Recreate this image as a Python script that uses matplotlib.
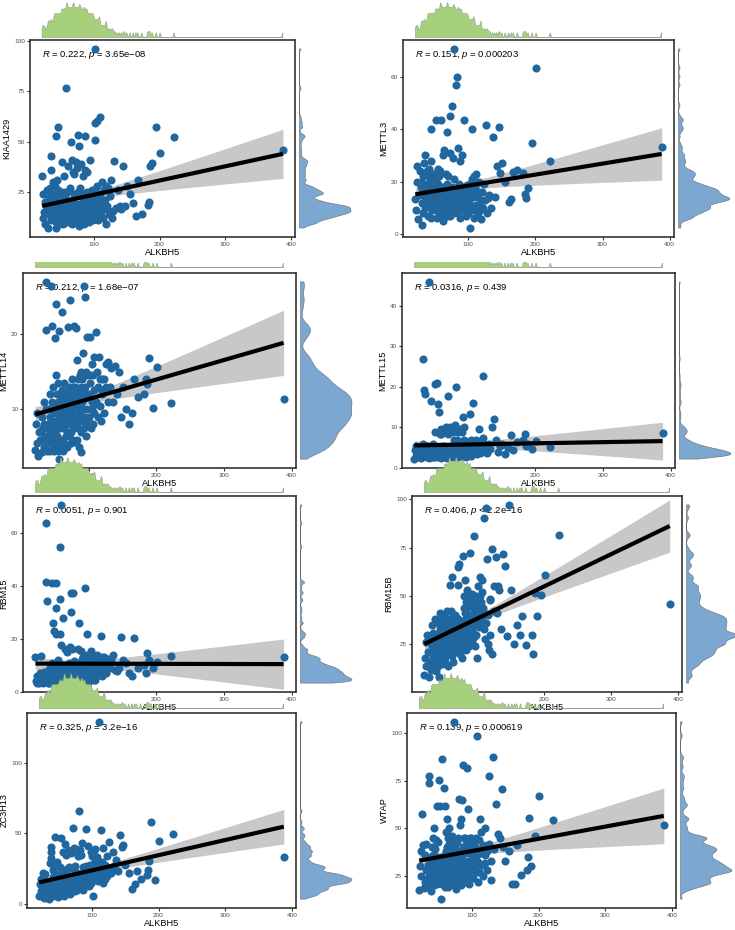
import numpy as np
import matplotlib
matplotlib.use("Agg")
import matplotlib.pyplot as plt

plt.rcParams['font.family'] = ['Liberation Sans', 'DejaVu Sans']
plt.rcParams['mathtext.fontset'] = 'custom'
plt.rcParams['mathtext.rm'] = 'Liberation Sans'
plt.rcParams['mathtext.it'] = 'Liberation Sans:italic'

# ALKBH5 expression, shared x of every panel (tail samples first, then the main cloud)
alkbh5 = [388, 222, 201, 195, 189, 186, 184, 182, 173, 167, 164, 160, 155, 150, 147, 145, 142,
          21, 22, 23, 24, 25, 26, 28, 29,
          30, 31, 31, 32, 33, 34, 34, 35, 36, 36, 37, 38, 39, 39,
          40, 40, 41, 41, 42, 42, 43, 43, 44, 44, 45, 45, 46, 46, 47, 47, 48, 48, 49, 49,
          50, 50, 51, 51, 52, 52, 52, 53, 53, 54, 54, 55, 55, 55, 56, 56, 57, 57, 58, 58, 58, 59, 59, 59,
          60, 60, 60, 61, 61, 62, 62, 62, 63, 63, 64, 64, 64, 65, 65, 66, 66, 66, 67, 67, 68, 68, 68, 69, 69, 69,
          70, 70, 70, 71, 71, 72, 72, 72, 73, 73, 74, 74, 74, 75, 75, 76, 76, 76, 77, 77, 78, 78, 78, 79, 79, 79,
          80, 80, 81, 81, 81, 82, 82, 83, 83, 84, 84, 84, 85, 85, 86, 86, 86, 87, 87, 88, 88, 89, 89, 89,
          90, 90, 91, 91, 92, 92, 93, 93, 94, 94, 95, 95, 96, 96, 97, 97, 98, 98, 99, 99,
          100, 100, 101, 102, 102, 103, 104, 104, 105, 106, 106, 107, 108, 108, 109, 109,
          110, 111, 112, 113, 114, 115, 116, 117, 118, 119, 119,
          120, 122, 123, 125, 126, 128, 129,
          131, 133, 136, 139]

kiaa1429 = [45.7, 52, 44.3, 57.2, 39.4, 38, 20, 18.7, 14, 31, 13, 19.5, 24, 28, 17.9, 38, 16.6,
            32.8, 24, 12, 15, 20, 9, 26, 17,
            7, 22, 14, 19, 27, 42.7, 11, 36, 16, 24, 13, 30, 18, 12.4,
            21, 13, 28, 16, 52.6, 10, 7, 23, 18, 31, 57, 14, 20, 26, 9, 17, 24, 15, 22, 11.8,
            15, 25, 12, 19, 40, 14, 14, 9, 17, 33, 13, 25, 15, 16, 11, 23, 76.4, 18, 18, 10, 17, 15, 24.9, 17,
            13, 13, 38, 16, 16, 10, 14, 18, 14, 15, 27, 12, 19, 49.6, 15, 18, 9, 21, 17, 41, 13, 20, 35, 11, 24, 16,
            17, 34, 12, 14, 15, 40, 19, 11, 24, 16, 14, 13, 37, 18, 15, 53.4, 14, 25, 17, 10, 47.6, 8, 16, 19, 27, 15,
            15, 14, 39, 18, 11, 24, 16, 16, 20, 13, 33, 17, 15, 9, 52.6, 19, 36, 15, 17, 12, 23, 18, 25, 14,
            19, 35, 13, 15, 16, 16, 10, 18, 18, 41, 14, 21, 25, 12, 26, 17, 20, 11, 23, 16,
            17, 26, 51, 96, 59, 21, 13, 28, 60, 18, 24, 11, 22, 15, 62, 20.6,
            24, 15, 30, 19, 12, 26, 17, 21, 9, 28, 16.8,
            18, 27, 14, 23, 31, 12, 15.7,
            40.4, 17, 26, 18]

mettl3 = [33.2, 28, 63.3, 34.6, 17.5, 13.7, 15.4, 23.2, 24.4, 23.8, 13.3, 12.3, 20, 27.2, 23.4, 41, 26,
          13.3, 9, 20, 26, 5.7, 15, 24, 19.8,
          18, 3.4, 12, 22, 8, 16, 27, 10, 14, 30, 19, 11, 24, 13.8,
          19, 7, 25, 13, 17, 22, 11, 21, 6, 15, 40, 28, 18, 9, 23, 12, 22, 14, 10, 10.1,
          12, 23, 9, 16, 43.4, 21, 20, 6, 14, 16, 10, 19, 25, 13, 22, 8, 17, 17, 11, 15, 24, 43.4, 7, 18,
          17, 8, 12.5, 12, 13, 15, 30, 5, 32, 18, 11, 17, 14, 9, 14, 16, 23, 10, 13, 18, 39, 19, 7, 15, 22, 12,
          16, 17, 10, 13, 13, 45, 31, 7, 17, 13, 12, 14, 9, 49, 15, 15, 11, 18, 29, 14, 8, 21, 13, 70.6, 17, 12,
          12, 11, 56.8, 14.2, 14, 9, 15, 60, 16, 13, 13, 8, 33, 16, 12, 19, 17, 10, 15, 28, 6, 13, 17, 10,
          30, 15, 16, 12, 18, 9, 14, 15, 43.4, 10, 17, 14, 13, 7, 16, 11, 16, 18.7, 8, 12,
          17, 17, 13, 2.3, 19, 11, 16, 15, 39.9, 9, 21, 14, 18, 6, 22, 9.7,
          18, 11, 23, 14, 8, 16, 20, 12, 9, 13, 5.6,
          16, 10, 19, 13, 41.6, 8, 13.8,
          15, 10, 37, 14]

mettl14 = [11.4, 10.8, 15.6, 10.2, 16.8, 13.4, 14, 12.1, 11.7, 14, 9.5, 8, 10.1, 13, 9, 15, 12,
           4.6, 8, 5.5, 9.5, 3.8, 7, 6, 7.1,
           6, 4.3, 9, 7.5, 11, 5, 8, 6.5, 26.9, 20.5, 10, 4.5, 7.5, 6,
           8, 5.5, 10, 6.5, 12, 7, 4.5, 9, 26.3, 8.5, 11, 6, 21, 7.5, 13, 5, 9.5, 6.5, 4.5, 6,
           19.4, 7, 23.9, 10.5, 14.5, 5.5, 8.5, 12, 6.5, 9.5, 11, 4.5, 13.5, 8, 20.4, 3.4, 10, 7.5, 9, 6, 9, 11.5, 5, 4.8,
           9, 12.5, 6, 22.9, 10, 11, 7.5, 4.5, 11, 8, 13.5, 9.5, 5.5, 12, 8.5, 10.5, 6.5, 12, 11, 7, 9, 11.5, 5, 20.9, 9.6, 8,
           9, 13, 6.5, 11, 11, 24.5, 8, 10, 12, 7, 12, 9.5, 5.5, 14, 10.5, 8.5, 13, 6, 11.5, 12, 21, 9, 7.5, 12.5, 10, 5.7,
           10.5, 13, 20.8, 8, 12, 16.5, 6, 11, 9, 14, 7.5, 10, 12, 12.5, 8.5, 5, 11.5, 14.5, 9.5, 13, 7, 10, 15, 4.4,
           11, 14, 8.5, 12.5, 17.5, 10, 26.3, 7.5, 13, 11.5, 24.9, 9, 15, 6.5, 19.6, 12, 10, 14.5, 8, 8.5,
           12, 9, 14.5, 19.6, 13.5, 7.5, 16, 11, 10, 14.5, 8, 12.5, 17, 9.5, 11, 10.7,
           20.2, 11, 15, 9, 13, 17, 10.5, 14, 8.5, 12.5, 14,
           12, 14, 9.5, 16, 13, 11, 16.3,
           13, 15.5, 11, 15.7]

mettl15 = [8.7, 5.1, 6.6, 4.7, 6.0, 5.5, 8.4, 7, 6.3, 4.5, 8.2, 5, 3.4, 6, 5.5, 4, 7,
           2.2, 4.5, 3, 5.5, 3.5, 4, 2.8, 4.5,
           3.5, 5, 2.5, 4, 6, 26.9, 3, 19.3, 18.2, 4.5, 3.2, 5.5, 2.7, 3,
           4, 5.5, 3, 4.5, 4.5, 3.5, 45.9, 2.5, 5, 4, 4.5, 3, 16.5, 4.5, 3.5, 5, 2.8, 4.2, 6, 2.7,
           3, 3, 20.6, 5.5, 3.5, 9, 4, 2.6, 3, 3.8, 4, 21, 3, 3, 15.9, 3.7, 13.7, 3.5, 4.5, 4.5, 2.8, 4, 8.5, 4.9,
           2.5, 8.5, 3, 9.5, 3.8, 4.5, 2.7, 3, 4, 3, 3.2, 5.5, 3, 3.5, 3.5, 2.8, 4.2, 9, 3.5, 2.8, 10, 3, 4, 3.2, 2.5, 4.6,
           2.8, 3, 8.5, 17.7, 4, 3.2, 2.8, 3, 3.5, 2.9, 10, 3.2, 4.2, 9.5, 3.8, 3, 2.6, 4.5, 3.1, 3.5, 4, 8.8, 3, 4.6, 6.8, 4,
           3, 3.5, 4.5, 10.5, 2.8, 3.2, 4, 20, 3.2, 3.8, 4.5, 7, 3.8, 3, 4.2, 2.7, 9, 4, 9.5, 3.5, 5.2, 4.6, 3, 4,
           3, 3.5, 4, 9, 3.5, 5.5, 12.5, 3, 10, 4.5, 4, 7, 4.5, 3.2, 6, 4, 5.2, 2.8, 5, 3.1,
           6, 3.5, 5.5, 4.5, 5.5, 13.3, 3, 7, 4.8, 6.5, 3.5, 5, 16.1, 4, 6, 4.2,
           6, 4.5, 7, 3.5, 5.5, 4, 9.6, 6.5, 3.8, 5, 5,
           5, 22.6, 7.5, 4, 6, 3.8, 5,
           6, 4.7, 10.2, 12]

rbm15 = [13.2, 13.4, 11.1, 9, 12.1, 14.6, 7.3, 10, 9, 20.2, 5.8, 7.3, 11, 12, 20.6, 9, 8,
         13.2, 4, 6, 3.5, 5.5, 3.3, 7, 4.5,
         13.5, 4, 6.5, 3.5, 5, 7.5, 3.8, 4.5, 63.7, 5.5, 41.4, 34.3, 3.4, 4,
         5, 8, 3.5, 6, 4.5, 9.5, 3.8, 7, 5.5, 4, 41.2, 11, 3.5, 6.5, 25.9, 4.8, 8, 3.3, 23, 4.7,
         6, 9.5, 31.5, 4, 41.2, 21.9, 7, 3.5, 10.5, 5, 8, 4.2, 12, 6.5, 3.6, 5.5, 34.9, 21.9, 54.7, 7.5, 4.5, 70.6, 17.5, 5.1,
         5, 5.5, 4.5, 6.5, 10, 27.8, 3.5, 7, 6, 5, 9, 4, 6, 16, 3.3, 8.5, 5.5, 9, 4.5, 7.5, 15, 3.8, 6, 9, 5, 7.4,
         5, 11, 5, 6, 4, 17, 6.5, 8, 37.2, 30, 8, 3.5, 7, 16, 5.5, 8.5, 4.5, 9.5, 37.4, 6, 11.5, 3.8, 7, 10.5, 5, 3.7,
         7, 6.5, 8, 8, 5, 11, 9, 8, 4, 7, 16, 4.5, 25.9, 10.5, 8.5, 6, 10, 3.6, 9.5, 15.5, 7, 5.5, 8.5, 5.4,
         9, 12.5, 7, 10, 5.5, 13, 8, 11, 6.5, 9.5, 39.3, 4.5, 12, 8.5, 14, 6, 21.8, 10, 4.5, 3.3,
         10, 7.5, 12, 5, 9, 15.5, 8, 11, 6, 13, 9.5, 4.5, 12.5, 7, 10.5, 4.6,
         11, 7, 14, 9, 12.5, 6.5, 10, 8, 20.9, 13, 6,
         10, 8, 13, 7, 12, 9, 12.4,
         9, 12, 14, 8.2]

rbm15b = [46, 81.5, 60.7, 50.5, 39.4, 51.7, 19.9, 30, 24.5, 39.8, 29.6, 35.2, 25.3, 53.3, 97, 29.2, 65.2,
          9.2, 18, 26, 14, 30, 21, 8.4, 27.8,
          16, 28, 12, 24, 35.2, 19, 31, 14, 26, 22, 38, 17, 20, 11.4,
          30, 18, 25, 36, 22, 14, 8.4, 29, 33, 21, 41, 26, 17, 31, 24, 38, 15, 28, 35, 18.6,
          33, 20, 27, 40, 23, 31, 16, 38, 26, 36, 19, 29, 42, 24, 14, 33, 28, 38, 5, 37, 22, 55.4, 30, 20,
          35, 22, 28, 42, 30, 19, 37, 26, 59.6, 24, 38, 16, 39.6, 29, 33, 21, 40, 27, 34, 40, 23, 36, 31, 39, 25, 30,
          33, 31, 26, 65, 30, 55.4, 24, 38, 66.4, 35, 29, 30, 20, 34, 32, 27, 27.6, 22, 35, 32, 28, 37, 18, 70.8, 31, 25,
          44, 36, 25, 50, 33, 41, 58, 29, 38, 47, 22, 43, 35, 53, 30, 40, 27, 45, 32, 49, 24, 39, 34, 33.2,
          72, 37, 45, 28, 51, 33, 39, 26, 48, 31, 42, 35, 81, 29, 44, 24, 50, 36, 30, 37,
          17.7, 46, 38, 55, 41, 34, 60, 43, 50, 37, 47, 52, 39, 58, 44, 42.3,
          90.2, 33, 28, 95.3, 36, 69, 25, 40, 22, 30, 48.5,
          48, 20.2, 74.2, 55, 42, 70.3, 41,
          55, 53.1, 33, 71.7]

zc3h13 = [33.3, 49.5, 44.7, 17, 58.1, 30.7, 24.4, 20.5, 17.9, 23.3, 14.4, 10.5, 22, 28, 41.9, 40.7, 48.8,
          5.8, 14, 9, 18, 12, 22, 4, 21.6,
          16, 7, 12, 10, 15, 5, 11, 3.5, 8, 6, 29.1, 40.7, 37.2, 32.6,
          15, 9, 24, 12, 19, 6, 13, 27, 10, 17, 47.7, 8, 21, 14, 11, 30, 7, 18, 5, 10.3,
          13, 16, 8, 20, 16, 11, 26, 47, 19, 7, 20, 21, 14, 9, 37, 17, 12, 24, 6, 20, 22, 15, 10, 14.8,
          42.6, 14, 12, 35, 17, 25, 9, 17, 14, 14, 20, 8, 38, 16, 26, 16, 11, 25.6, 18, 7, 36, 15, 19, 19, 10, 15,
          13, 15, 14, 54.2, 16, 25, 11, 20, 19, 40, 15, 9, 27, 17, 18, 17, 12, 39, 18, 10, 22, 22, 14, 34, 19, 18,
          17, 16, 65.6, 20, 12, 38, 17, 35, 19, 14, 20, 21, 43, 19, 26, 10, 18, 17, 16, 16.2, 13, 21, 21, 18,
          16, 22, 53.5, 27, 16, 25, 18, 26.5, 19, 41, 26, 21, 14, 13, 28, 18, 23, 15, 37, 15,
          28, 34, 20, 5.8, 36, 25, 31, 18, 39, 23, 29, 33, 21, 27, 16, 17.4,
          129, 26, 19, 52.3, 21, 30, 15, 40, 24, 18, 20.7,
          28, 34, 20, 25, 44.2, 22, 23.5,
          37, 27, 31, 23.4]

wtap = [52, 54.3, 67.2, 46, 30, 55.2, 34.8, 28.1, 25.7, 41.2, 21, 20.5, 38, 33, 40, 70.7, 45,
        17.8, 30, 38, 25, 57.8, 41, 18.4, 36,
        22, 42, 28, 35, 19, 31, 24, 27, 77.6, 73.8, 20, 34, 17, 20.7,
        40, 23, 31, 45, 27, 36, 20, 50, 29, 33, 24, 39, 44, 28, 62, 21, 35, 30, 26, 43,
        28, 28, 75.5, 33, 62, 24, 28, 12.8, 30, 30, 26, 86.6, 35, 21, 28, 29, 30, 23, 71.2, 32, 27, 36, 19, 25,
        62, 34, 27, 48, 38, 22, 31, 55, 40, 26, 35, 45, 19, 33, 50, 29, 42, 24, 37, 46, 30, 21, 39, 44, 28, 20.6,
        37, 24, 46, 32, 40, 28, 39, 21, 106, 44, 35, 38, 30, 26, 41, 36, 18, 38.8, 33, 27, 43, 22, 38, 31, 45, 25,
        33, 27, 65.5, 29, 30, 52, 25, 55, 31, 28, 20, 27, 65, 35, 40, 23, 30, 83.3, 26, 45, 28, 39, 22, 26.8,
        32, 45, 23, 41, 81.6, 30, 43, 27, 37, 60, 26, 33, 33, 21, 45, 31, 45, 28, 38, 32.4,
        38, 31, 40, 24, 42, 35, 40, 29, 40, 33, 45, 27, 98.6, 36, 22, 32.2,
        44, 27, 55, 37, 48, 31, 41, 25, 38, 50, 31.9,
        36, 38, 28, 42, 77.6, 33, 22.6,
        87.4, 39, 62.9, 47]

genes = ['KIAA1429', 'METTL3', 'METTL14', 'METTL15', 'RBM15', 'RBM15B', 'ZC3H13', 'WTAP']
values = [kiaa1429, mettl3, mettl14, mettl15, rbm15, rbm15b, zc3h13, wtap]
stats = ['$R$ = 0.222, $p$ = 3.65e\u221208',
         '$R$ = 0.151, $p$ = 0.000203',
         '$R$ = 0.212, $p$ = 1.68e\u221207',
         '$R$ = 0.0316, $p$ = 0.439',
         '$R$ = 0.0051, $p$ = 0.901',
         '$R$ = 0.406, $p$ < 2.2e\u221216',
         '$R$ = 0.325, $p$ = 3.2e\u221216',
         '$R$ = 0.139, $p$ = 0.000619']
yticks = [[25, 50, 75, 100], [0, 20, 40, 60], [10, 20], [0, 10, 20, 30, 40],
          [0, 20, 40, 60], [25, 50, 75, 100], [0, 50, 100], [25, 50, 75, 100]]
xticks = [100, 200, 300, 400]

# layout in pixels: panel boxes (left, top, right, bottom)
W, H = 735, 930
boxes = [(30, 40, 295, 237), (403, 40, 674, 237),
         (23, 273, 296, 468), (402, 273, 675, 468),
         (23, 496, 296, 692), (412, 496, 682, 692),
         (27, 713, 296, 908), (407, 713, 676, 908)]
# top marginal: baseline px and visible height (row 2 is covered by row 1)
strips = [(38, 36), (38, 36), (268, 6), (268, 6), (493, 36), (493, 36), (709, 36), (709, 36)]
ybw = [0.9, 0.8, 0.7, 0.6, 0.6, 1.3, 1.1, 1.3]

pt_col = '#21679f'
green = '#a6d07b'
blue = '#7ba7d0'


def frac(l, t, r, b):
    return [l / W, 1 - b / H, (r - l) / W, (b - t) / H]


def kde(v, grid, bw):
    d = np.exp(-0.5 * ((grid[:, None] - v[None, :]) / bw) ** 2).sum(axis=1)
    return d / (len(v) * bw * np.sqrt(2 * np.pi))


fig = plt.figure(figsize=(7.35, 9.3), dpi=100)
x = np.array(alkbh5, float)
gx = np.linspace(x.min(), x.max(), 900)
dx = kde(x, gx, 1.0)

for i in range(8):
    y = np.array(values[i], float)
    assert len(y) == len(x), (genes[i], len(y))
    l, t, r, b = boxes[i]
    ax = fig.add_axes(frac(l, t, r, b))

    # linear fit + 95% band
    k, c = np.polyfit(x, y, 1)
    gl = np.linspace(x.min(), x.max(), 100)
    fit = k * gl + c
    n = len(x)
    s = np.sqrt(np.sum((y - (k * x + c)) ** 2) / (n - 2))
    se = s * np.sqrt(1 / n + (gl - x.mean()) ** 2 / np.sum((x - x.mean()) ** 2))
    ax.fill_between(gl, fit - 1.97 * se, fit + 1.97 * se, color='#c8c8ca', lw=0, zorder=1)
    ax.text(x.min(), y.max(), stats[i], ha='left', va='top', fontsize=6.8, zorder=1.5)
    ax.scatter(x, y, s=34, color=pt_col, lw=0, zorder=2)
    ax.plot(gl, fit, color='black', lw=3, zorder=3, solid_capstyle='butt')

    rx = x.max() - x.min()
    ry = y.max() - y.min()
    ax.set_xlim(x.min() - 0.05 * rx, x.max() + 0.05 * rx)
    ax.set_ylim(y.min() - 0.05 * ry, y.max() + 0.05 * ry)

    ax.set_xticks(xticks)
    ax.set_yticks(yticks[i])
    ax.tick_params(labelsize=4.6, labelcolor='#4d4d4d', length=2.2, width=0.8, pad=1.2, color='#333333')
    ax.set_xlabel('ALKBH5', fontsize=6.6, labelpad=1)
    ax.set_ylabel(genes[i], fontsize=6.6, labelpad=2)
    for sp in ax.spines.values():
        sp.set_linewidth(1.2)
        sp.set_color('#333333')

    # top marginal (ALKBH5 density)
    base, hgt = strips[i]
    axt = fig.add_axes(frac(l, base - hgt, r, base))
    axt.fill(np.r_[gx[0], gx, gx[-1]], np.r_[0, dx, 0], facecolor=green, edgecolor='#8a8a8a', lw=0.3)
    top = dx.max() * 1.02
    axt.set_xlim(ax.get_xlim())
    axt.set_ylim(-top * 0.01, top * hgt / 36)
    axt.axis('off')

    # right marginal (gene density)
    gy = np.linspace(y.min(), y.max(), 800)
    dy = kde(y, gy, ybw[i])
    axr = fig.add_axes(frac(r + 4, t, r + 57, b))
    axr.fill(np.r_[0, dy, 0], np.r_[gy[0], gy, gy[-1]], facecolor=blue, edgecolor='#6a6a6a', lw=0.4)
    axr.set_ylim(ax.get_ylim())
    axr.set_xlim(-dy.max() * 0.01, dy.max() * 1.02)
    axr.axis('off')

fig.savefig('out.png', dpi=100)
